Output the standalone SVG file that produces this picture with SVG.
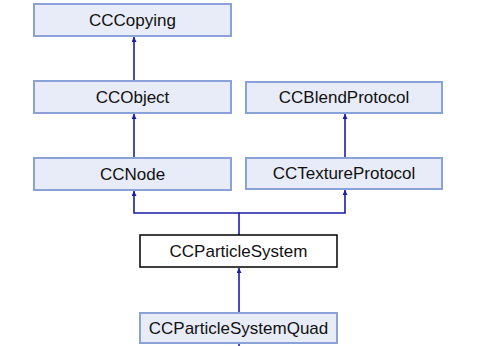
<svg xmlns="http://www.w3.org/2000/svg" width="480" height="346" viewBox="0 0 480 346">
<defs>
<marker id="ah" viewBox="0 0 10 10" refX="10" refY="5" markerWidth="6" markerHeight="5" orient="auto" markerUnits="userSpaceOnUse">
<path d="M0,0 L10,5 L0,10 z" fill="#1c1ca8"/>
</marker>
<style>
.n rect{fill:#e8ecf8;stroke:#8aa2d8;stroke-width:2}
.n.cur rect{fill:#ffffff;stroke:#000000;stroke-width:1.5}
.n text{font-family:"Liberation Sans",Arial,sans-serif;font-size:17px;fill:#111;text-anchor:middle}
.e path{fill:none;stroke:#1c1ca8;stroke-width:1.6}
</style>
</defs>
<rect width="480" height="346" fill="#ffffff"/>
<g class="e" id="connectors">
<path d="M134,81 V37" marker-end="url(#ah)"/>
<path d="M134,158 V114" marker-end="url(#ah)"/>
<path d="M345,158 V114" marker-end="url(#ah)"/>
<path d="M239,235 V213 H134 V191" marker-end="url(#ah)"/>
<path d="M239,213 H345 V190" marker-end="url(#ah)"/>
<path d="M239,313 V268" marker-end="url(#ah)"/>
<path d="M239,343 V346"/>
</g>
<g class="n" id="CCCopying"><rect x="34" y="4" width="197" height="32"/><text x="132.5" y="26">CCCopying</text></g>
<g class="n" id="CCObject"><rect x="34" y="81" width="197" height="32"/><text x="132.5" y="103">CCObject</text></g>
<g class="n" id="CCBlendProtocol"><rect x="246" y="82" width="196" height="31"/><text x="344" y="103">CCBlendProtocol</text></g>
<g class="n" id="CCNode"><rect x="34" y="158" width="197" height="32"/><text x="132.5" y="180">CCNode</text></g>
<g class="n" id="CCTextureProtocol"><rect x="246" y="158" width="196" height="31"/><text x="344" y="179">CCTextureProtocol</text></g>
<g class="n cur" id="CCParticleSystem"><rect x="140" y="235" width="197" height="32"/><text x="238.5" y="257">CCParticleSystem</text></g>
<g class="n" id="CCParticleSystemQuad"><rect x="140" y="313" width="197" height="30"/><text x="238.5" y="334">CCParticleSystemQuad</text></g>
</svg>
